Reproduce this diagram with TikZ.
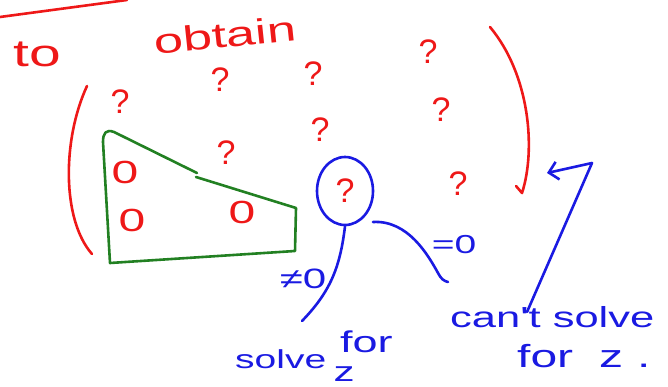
\documentclass[tikz,border=0pt]{standalone}
\usepackage{fontspec}
\usepackage{tikz}
\usetikzlibrary{arrows.meta, shapes.geometric}
\newfontfamily\handfont[FakeStretch=1.5]{Liberation Sans}
\newfontfamily\qfont{Liberation Sans}
\definecolor{penred}{RGB}{238,24,24}
\definecolor{penblue}{RGB}{26,26,226}
\definecolor{pengreen}{RGB}{34,128,34}

\begin{document}
\begin{tikzpicture}[x=1pt, y=-1pt, line cap=round, line join=round,
  redink/.style={penred, line width=2.6pt},
  blueink/.style={penblue, line width=2.6pt},
  greenink/.style={pengreen, line width=2.6pt},
  hand/.style={font=\handfont\fontsize{#1}{#1}\selectfont, inner sep=0pt},
  qmark/.style={text=penred, font=\qfont\fontsize{34}{34}\selectfont, inner sep=0pt}]

\useasboundingbox (0,0) rectangle (668,387);

% 1pt = 1px of the sketch, y grows downwards
\draw[redink] (0,17) -- (127,0);
\node[hand=38, text=penred, anchor=base west] (to) at (13,67) {to};
\node[hand=35, text=penred, anchor=base west, rotate=6] (obtain) at (155,55) {obtain};

% question marks, centred between hook and dot
\foreach \i/\qx/\qy in {1/120/102, 2/220/80, 3/313/74, 4/320/130, 5/226/153, 6/428/52, 7/441/110, 8/458/184}
  \node[qmark] (q\i) at (\qx,\qy) {?};

% brackets round it all
\draw[redink] (87,86) .. controls (62,140) and (62,220) .. (92,254);
\draw[redink] (490,27) .. controls (530,75) and (536,150) .. (522,193) -- (516,186);

% green slab with its zeros
\draw[greenink] (197,173) -- (114,132) .. controls (106,129) and (103,133) .. (103,142)
  -- (110,263) -- (295,251) -- (296,208) -- (196,177);
\node[hand=32, text=penred] (o1) at (125,172) {0};
\node[hand=32, text=penred] (o2) at (132,220) {0};
\node[hand=32, text=penred] (o3) at (242,212) {0};

% the unknown entry
\node[qmark, ellipse, draw=penblue, line width=2.6pt, minimum width=56pt, minimum height=68pt] (unk) at (345,191) {?};

\coordinate (solvetip) at (302,321);
\coordinate (zerotail) at (373,222);
\coordinate (zerotip) at (448,282);
\draw[blueink] (unk.south) .. controls (340,268) and (330,292) .. (solvetip);
\draw[blueink] (zerotail) .. controls (408,220) and (428,255) .. (438,273)
  .. controls (441,279) and (444,281) .. (zerotip);

\node[hand=28, text=penblue] (ne) at (303,279) {≠0};
\node[hand=26, text=penblue] (eq) at (454,245) {=0};

\node[hand=26, text=penblue, anchor=base west] (solve) at (235,368) {solve};
\node[hand=30, text=penblue, anchor=base west] (for) at (340,352) {for};
\node[hand=28, text=penblue] (z) at (344,374) {z};

\node[hand=29, text=penblue, anchor=base west] (cant) at (450,327) {can't solve};
\node[hand=32, text=penblue, anchor=base west] (forz) at (517,367) {for\hspace{26pt}z\hspace{14pt}.};

% arrow back to the bracket
\coordinate (cantstem) at (527,312);
\coordinate (turn) at (592,163);
\coordinate (bracket) at (547,173);
\draw[blueink, -{Straight Barb[length=9pt, width=18pt]}] (cantstem) -- (turn) -- (bracket);
\end{tikzpicture}
\end{document}
